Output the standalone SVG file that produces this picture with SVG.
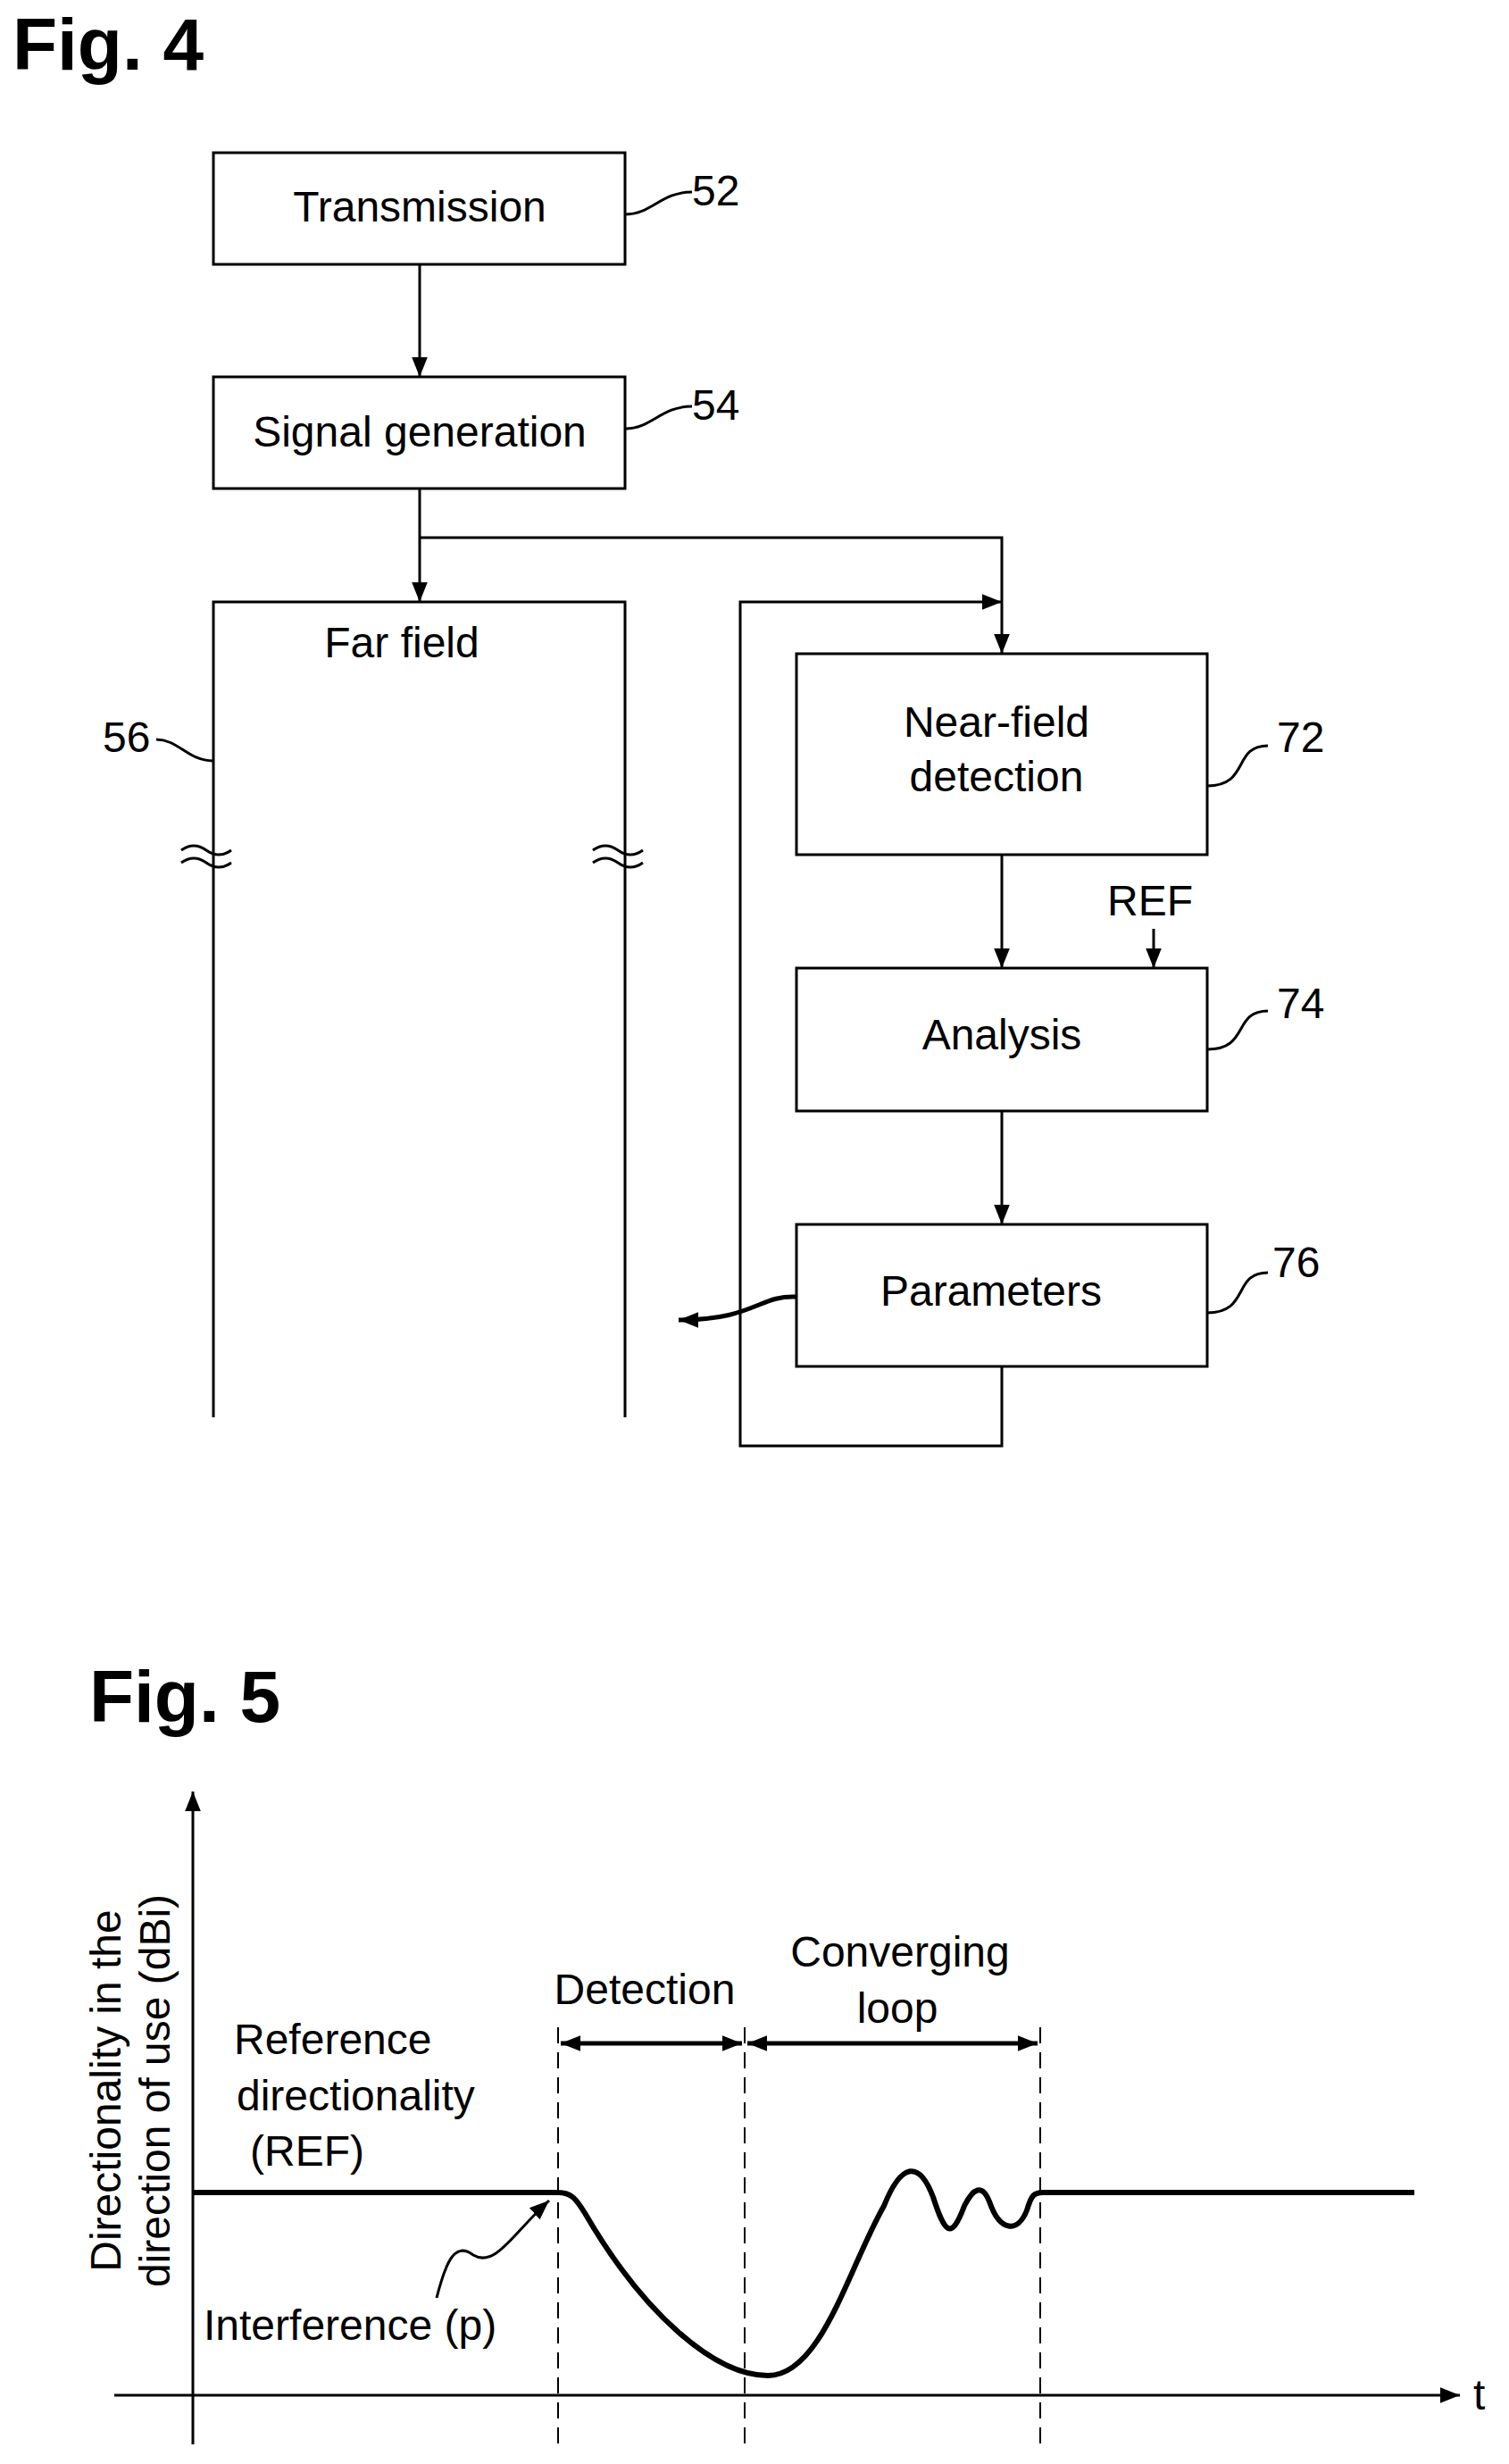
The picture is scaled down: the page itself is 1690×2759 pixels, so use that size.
<svg xmlns="http://www.w3.org/2000/svg" width="1690" height="2759" viewBox="0 0 1690 2759">
<defs>
<marker id="ah" viewBox="0 0 10 10" refX="10" refY="5" markerWidth="7" markerHeight="7" markerUnits="userSpaceOnUse" orient="auto"><path d="M0,0 L10,5 L0,10 z" fill="#000"/></marker>
<marker id="a" viewBox="0 0 10 10" refX="10" refY="5" markerWidth="22" markerHeight="22" markerUnits="userSpaceOnUse" orient="auto-start-reverse"><path d="M0,1 L10,5 L0,9 z" fill="#000"/></marker>
</defs>
<style>
text{font-family:"Liberation Sans",Arial,sans-serif;font-size:48px;fill:#000}
.b{fill:#fff;stroke:#000;stroke-width:3}
.l{fill:none;stroke:#000;stroke-width:3}
.t{font-weight:bold;font-size:82px}
.m{text-anchor:middle}
</style>
<rect width="1690" height="2759" fill="#fff"/>
<text class="t" x="14" y="78">Fig. 4</text>
<g id="n52"><rect class="b" x="239" y="171" width="461" height="125"/><text class="m" x="470" y="248">Transmission</text><path class="l" d="M700,240 C730,240 740,215 775,215"/><text x="775" y="230">52</text></g>
<g id="n54"><rect class="b" x="239" y="422" width="461" height="125"/><text class="m" x="470" y="500">Signal generation</text><path class="l" d="M700,480 C730,480 740,455 775,455"/><text x="775" y="470">54</text></g>
<g id="n56"><path class="l" d="M239,1587 V674 H700 V1587"/><text class="m" x="450" y="736">Far field</text><text x="115" y="842">56</text><path class="l" d="M175,828 C200,828 210,852 239,852"/>
<path d="M225,952 q14,-10 28,0 t28,0 M225,966 q14,-10 28,0 t28,0" transform="translate(-22,0)" fill="none" stroke="#000" stroke-width="3"/>
<path d="M225,952 q14,-10 28,0 t28,0 M225,966 q14,-10 28,0 t28,0" transform="translate(439,0)" fill="none" stroke="#000" stroke-width="3"/></g>
<g id="n72"><rect class="b" x="892" y="732" width="460" height="225"/><text class="m" x="1116" y="825">Near-field</text><text class="m" x="1116" y="886">detection</text><path class="l" d="M1352,880 C1400,880 1380,835 1420,835"/><text x="1430" y="842">72</text></g>
<g id="n74"><rect class="b" x="892" y="1084" width="460" height="160"/><text class="m" x="1122" y="1175">Analysis</text><path class="l" d="M1352,1175 C1400,1175 1380,1132 1420,1132"/><text x="1430" y="1140">74</text></g>
<g id="n76"><rect class="b" x="892" y="1371" width="460" height="159"/><text class="m" x="1110" y="1462">Parameters</text><path class="l" d="M1352,1470 C1400,1470 1380,1425 1420,1425"/><text x="1425" y="1430">76</text></g>
<g id="ref"><text x="1240" y="1025">REF</text></g>
<g id="connectors">
<line class="l" x1="470" y1="296" x2="470" y2="422" marker-end="url(#a)"/>
<line class="l" x1="470" y1="547" x2="470" y2="674" marker-end="url(#a)"/>
<polyline class="l" points="470,602 1122,602 1122,732" marker-end="url(#a)"/>
<polyline class="l" points="1122,1530 1122,1619 829,1619 829,674 1122,674" marker-end="url(#a)"/>
<line class="l" x1="1122" y1="957" x2="1122" y2="1084" marker-end="url(#a)"/>
<line class="l" x1="1292" y1="1040" x2="1292" y2="1084" marker-end="url(#a)"/>
<line class="l" x1="1122" y1="1244" x2="1122" y2="1371" marker-end="url(#a)"/>
<path d="M892,1452 C850,1450 845,1478 760,1478" fill="none" stroke="#000" stroke-width="5" marker-end="url(#a)"/>
</g>
<text class="t" x="100" y="1928">Fig. 5</text>
<g id="fig5">
<line class="l" x1="216" y1="2737" x2="216" y2="2006" marker-end="url(#a)"/>
<line class="l" x1="128" y1="2682" x2="1635" y2="2682" marker-end="url(#a)"/>
<text x="1650" y="2698">t</text>
<text transform="translate(135,2341) rotate(-90)" class="m">Directionality in the</text>
<text transform="translate(190,2341) rotate(-90)" class="m">direction of use (dBi)</text>
<g stroke="#000" stroke-width="2" stroke-dasharray="18,10"><line x1="625" y1="2270" x2="625" y2="2740"/><line x1="834" y1="2270" x2="834" y2="2740"/><line x1="1165" y1="2270" x2="1165" y2="2740"/></g>
<line class="l" stroke-width="5" x1="628" y1="2288" x2="831" y2="2288" marker-start="url(#a)" marker-end="url(#a)" style="stroke-width:5"/>
<line class="l" x1="837" y1="2288" x2="1162" y2="2288" marker-start="url(#a)" marker-end="url(#a)" style="stroke-width:5"/>
<text class="m" x="722" y="2244">Detection</text>
<text class="m" x="1008" y="2202">Converging</text>
<text class="m" x="1005" y="2265">loop</text>
<text x="262" y="2300">Reference</text>
<text x="265" y="2363">directionality</text>
<text x="280" y="2425">(REF)</text>
<text x="228" y="2620">Interference (p)</text>
<path d="M216,2455 H625 C640,2455 645,2462 655,2478 C720,2590 800,2660 860,2660 C920,2660 950,2540 990,2470 C1010,2420 1030,2420 1045,2460 C1058,2500 1065,2510 1080,2470 C1090,2450 1100,2445 1108,2465 C1120,2500 1140,2500 1150,2475 C1155,2458 1158,2455 1168,2455 H1584" fill="none" stroke="#000" stroke-width="6"/>
<path d="M489,2573 C500,2530 510,2510 530,2525 C555,2540 575,2500 615,2464" fill="none" stroke="#000" stroke-width="3" marker-end="url(#a)"/>
</g>
</svg>
